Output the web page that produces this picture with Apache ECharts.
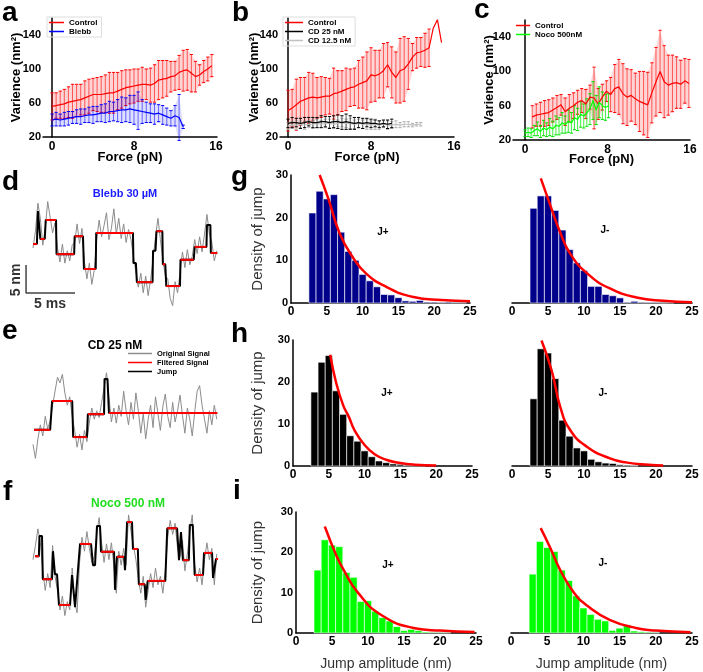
<!DOCTYPE html>
<html><head><meta charset="utf-8">
<script src="https://cdn.jsdelivr.net/npm/echarts@6/dist/echarts.min.js"></script>
<style>html,body{margin:0;padding:0;background:#fff}#c{width:703px;height:672px}</style>
</head><body><div id="c"></div>
<script>
// ---------- Panel a ----------
const aControlF = [0,0.4,0.8,1.2,1.6,2,2.4,2.8,3.2,3.6,4,4.4,4.8,5.2,5.6,6,6.4,6.8,7.2,7.6,8,8.4,8.8,9.2,9.6,10,10.4,10.8,11.2,11.6,12,12.4,12.8,13.2,13.6,14,14.4,14.8,15.2,15.6];
const aControlMean = [56,57,58,59,61,62,63,64,66,68,70,70,70,71,72,72,74,76,78,79,80,81,82,82,81,83,87,88,89,91,92,96,98,99,95,91,93,97,100,104];
const aControlErr = [16,15,16,17,18,20,19,18,20,20,19,20,21,22,24,24,22,22,21,20,20,19,20,18,20,22,23,22,21,18,17,20,24,24,22,18,12,13,14,13];
const aBlebbF = [0,0.4,0.8,1.2,1.6,2,2.4,2.8,3.2,3.6,4,4.4,4.8,5.2,5.6,6,6.4,6.8,7.2,7.6,8,8.4,8.8,9.2,9.6,10,10.4,10.8,11.2,11.6,12,12.4,12.8];
const aBlebbMean = [40,41,40,41,42,43,44,44,45,46,46,47,48,48,50,50,51,52,52,53,52,51,50,49,48,47,48,46,44,42,45,43,32];
const aBlebbErr = [7,8,7,8,8,7,8,9,8,9,10,9,10,11,12,11,13,15,14,16,17,22,14,12,11,12,10,11,10,9,12,27,2];
// ---------- Panel b ----------
const bControlF = [0,0.4,0.8,1.2,1.6,2,2.4,2.8,3.2,3.6,4,4.4,4.8,5.2,5.6,6,6.4,6.8,7.2,7.6,8,8.4,8.8,9.2,9.6,10,10.4,10.8,11.2,11.6,12,12.4,12.8,13.2,13.6,14,14.4,14.8];
const bControlMean = [51,54,58,62,64,66,67,66,67,68,68,71,72,74,76,78,79,82,84,86,93,92,94,98,105,96,90,98,100,106,114,119,120,122,125,148,158,131];
const bControlErr = [24,22,30,28,26,30,28,24,24,22,21,30,26,24,25,22,22,28,30,34,32,30,28,32,26,30,30,38,38,30,16,18,17,20,22,0,0,0];
const bCD25F = [0,0.4,0.8,1.2,1.6,2,2.4,2.8,3.2,3.6,4,4.4,4.8,5.2,5.6,6,6.4,6.8,7.2,7.6,8,8.4,8.8,9.2,9.6,10];
const bCD25Mean = [36,37,37,36,37,38,37,37,38,38,37,38,38,37,38,37,36,37,36,37,36,36,35,36,35,36];
const bCD25Err = [5,6,5,6,6,5,6,6,7,6,7,7,8,8,9,8,7,6,6,5,5,4,4,4,5,5];
const bCD12F = [0,0.4,0.8,1.2,1.6,2,2.4,2.8,3.2,3.6,4,4.4,4.8,5.2,5.6,6,6.4,6.8,7.2,7.6,8,8.4,8.8,9.2,9.6,10,10.4,10.8,11.2,11.6,12,12.4,12.8];
const bCD12Mean = [33,34,34,35,34,35,35,36,35,36,36,35,36,37,36,36,35,36,35,35,34,35,34,35,34,34,35,34,35,35,34,35,35];
const bCD12Err = [4,4,5,4,5,4,5,5,4,5,5,5,4,5,5,6,5,5,5,6,5,6,5,4,5,4,4,3,3,3,2,2,2];
// ---------- Panel c ----------
const cControlF = [0.7,1.1,1.5,1.9,2.3,2.7,3.1,3.5,3.9,4.3,4.7,5.1,5.5,5.9,6.3,6.7,7.1,7.5,7.9,8.3,8.7,9.1,9.5,9.9,10.3,10.7,11.1,11.5,11.9,12.3,12.7,13.1,13.5,13.9,14.3,14.7,15.1,15.5,15.9];
const cControlMean = [47,49,50,51,52,55,58,61,53,57,60,64,66,62,70,69,62,70,77,73,80,82,74,70,72,68,65,63,61,75,88,100,88,84,86,87,85,89,86];
const cControlErr = [13,13,14,15,15,14,14,12,16,16,15,14,14,17,14,36,18,15,12,20,28,32,35,33,30,30,35,37,38,35,40,48,42,35,33,30,28,26,28];
const cNocoF = [0,0.3,0.6,0.9,1.2,1.5,1.8,2.1,2.4,2.7,3,3.3,3.6,3.9,4.2,4.5,4.8,5.1,5.4,5.7,6,6.3,6.6,6.9,7.2,7.5,7.8,8.1];
const cNocoMean = [28,29,28,31,33,30,34,32,35,33,37,36,40,38,42,40,46,44,50,48,52,56,66,55,64,60,58,60];
const cNocoErr = [4,5,5,6,8,7,9,8,10,9,11,10,12,10,13,12,14,13,15,14,16,18,22,17,18,16,15,14];
const forceTicks = [0, 8, 16];
const varTicks = [20, 60, 100, 140];

// ---------- Traces d, e, f (time ms, displacement nm) ----------
const sampleMs = 0.25;
const dSignal = [7.5,10.5,15.5,12.8,8.0,11.0,15.8,13.0,10.2,12.0,7.5,5.0,8.2,4.8,7.0,5.2,8.0,8.5,11.8,8.3,11.0,5.0,2.0,4.8,1.0,3.5,9.0,12.5,9.5,11.5,13.8,9.0,11.0,14.5,10.0,12.8,9.2,11.8,8.5,10.8,9.0,6.0,3.2,0.5,3.0,-0.5,2.5,-1.0,1.8,5.5,9.5,12.8,9.0,5.5,2.5,2.0,-1.5,-2.8,1.5,-0.5,3.0,6.8,4.0,7.2,4.5,6.0,9.0,6.5,9.5,6.8,10.0,13.5,10.0,8.5,5.2,7.0];
const eSignal = [1.0,-1.5,2.0,4.5,2.5,6.0,3.8,5.2,8.0,10.5,13.0,12.0,13.5,10.2,8.0,9.5,6.0,3.5,0.5,2.8,0.0,3.5,1.5,5.0,7.5,5.5,7.0,5.8,8.5,11.0,13.8,9.5,5.0,7.5,4.8,8.0,6.0,10.5,7.0,4.5,8.5,5.5,10.2,7.0,3.0,6.5,2.0,5.5,8.0,4.0,9.5,6.5,3.5,7.8,10.0,6.0,4.0,8.5,5.0,7.0,9.8,6.2,3.0,7.5,5.5,2.5,6.8,10.5,11.5,8.0,5.5,3.0,7.0,4.5,8.0,5.5];
const fSignal = [9.0,11.5,14.5,12.0,7.0,3.5,6.5,4.0,11.5,6.0,3.5,0.0,2.5,-1.0,1.5,0.0,7.5,1.5,-0.5,8.5,13.0,10.5,14.0,11.0,8.5,9.5,13.5,16.5,12.0,8.5,11.8,9.0,12.0,8.0,3.0,10.5,8.0,11.0,8.0,17.0,14.0,11.5,9.0,5.5,3.0,6.0,0.5,3.5,6.5,4.0,7.5,4.5,6.0,3.0,7.0,13.0,16.0,13.5,15.5,11.0,9.5,12.5,7.0,10.0,14.0,17.0,8.0,5.0,7.5,4.5,9.0,12.0,9.0,11.0,4.5,10.0];
// steps: [tStart, tEnd, level, isFilteredPlateau]
const dSteps = [[0.0,0.4,8.2,1],[0.5,0.7,14.1,0],[0.75,1.2,9.1,1],[1.3,2.35,12.5,1],[2.4,4.2,6.4,1],[4.25,5.1,9.6,1],[5.2,6.4,3.75,1],[6.45,10.2,10.2,1],[10.25,10.5,4.8,0],[10.6,12.2,1.4,1],[12.25,12.5,7.0,0],[12.6,13.2,10.5,1],[13.25,13.5,4.6,1],[13.6,15.0,0.7,1],[15.05,16.4,5.4,1],[16.5,17.7,7.7,1],[17.75,18.1,11.6,0],[18.15,18.8,6.6,1]];
const eSteps = [[0.1,1.75,3.6,1],[1.95,4.0,8.75,1],[4.1,5.5,2.3,1],[5.6,7.25,6.4,1],[7.3,7.6,12.7,0],[7.75,18.8,6.6,1]];
const fSteps = [[0.2,0.6,9.6,1],[0.66,0.92,13.2,0],[1.0,1.94,5.5,1],[2.04,2.14,10.5,0],[2.24,2.45,6.4,0],[2.65,3.78,0.9,1],[3.98,4.18,6.25,0],[4.29,4.49,0.5,0],[4.8,5.92,11.8,1],[6.12,6.33,8.0,0],[6.53,6.84,15.0,0],[6.94,8.27,10.4,1],[8.37,8.47,3.6,0],[8.57,9.29,9.5,1],[9.39,9.49,7.1,0],[9.6,10.1,15.7,1],[10.2,10.7,10.9,1],[10.8,11.4,4.6,1],[11.5,11.6,1.8,0],[11.7,13.5,5.2,1],[13.7,14.7,14.6,1],[14.9,15.0,8.9,0],[15.1,15.2,13.9,0],[15.3,15.9,8.9,1],[16.0,16.3,15.2,0],[16.5,17.35,6.25,1],[17.45,18.27,10.2,1],[18.37,18.57,5.7,0],[18.67,18.88,9.1,1]];
const scaleBarNm = 5, scaleBarMs = 5;

// ---------- Histograms (bin centre nm, density) ----------
const gJplus = [[3,21.1],[4,26.2],[5,24.4],[6,25.4],[7,16.6],[8,12.1],[9,10],[10,6.7],[11,5.2],[12,3.8],[13,2.0],[14,1.9],[15,1.25],[16,0.5],[17,0.4],[18,0.6],[19,0.2],[20,0.2],[21,0.1],[22,0.2],[23,0.1],[24,0.1]];
const gJminus = [[3,22.2],[4,25.1],[5,25.1],[6,21.7],[7,17.1],[8,12.5],[9,9.4],[10,7.6],[11,3.9],[12,3.9],[13,2.0],[14,1.7],[15,1.2],[16,0.15],[17,0.4],[18,0.15],[19,0.1],[20,0.1],[21,0.05],[22,0.1]];
const hJplus = [[3,17.6],[4,24.7],[5,26.3],[6,17.9],[7,12.3],[8,7.2],[9,5.9],[10,3.6],[11,2.2],[12,1.2],[13,0.8],[14,0.5],[15,0.4],[16,0.2],[17,0.1],[18,0.1]];
const hJminus = [[3,16],[4,27.9],[5,26.9],[6,20.8],[7,10.9],[8,7.1],[9,4.3],[10,3.6],[11,1.6],[12,1.0],[13,0.7],[14,0.6],[15,0.3],[16,0.2],[17,0.1]];
const iJplus = [[3,15.6],[4,23.1],[5,21.8],[6,21.4],[7,15.0],[8,13.8],[9,7.8],[10,8.0],[11,5.4],[12,3.8],[13,3.0],[14,1.6],[15,0.6],[16,0.9],[17,0.6],[18,0.25],[19,0.15],[20,0.1],[21,0.1]];
const iJminus = [[3,14.6],[4,22.7],[5,21.2],[6,20.2],[7,15.6],[8,13.0],[9,9.2],[10,6.2],[11,4.6],[12,3.4],[13,3.0],[14,0.64],[15,1.2],[16,2.0],[17,0.5],[18,0.3],[19,0.2],[20,0.1]];
// fitted curves
const gJplusFit = [[4,30],[5.2,24.5],[6.8,16.3],[8.6,10.8],[10.5,6.9],[13.3,3.8],[17.1,1.4],[21,0.7],[25,0.4]];
const gJminusFit = [[4,29.2],[5.3,23],[6.7,16.5],[8.1,11.5],[10.4,7],[13.6,3.4],[17.3,1.3],[21,0.5],[25,0.2]];
const hJplusFit = [[5.2,26.5],[6,20],[7,14.5],[7.8,11.7],[8.6,8.5],[10,5],[11.4,2.8],[13,1.5],[15,0.7],[17,0.3],[20,0.1]];
const hJminusFit = [[4.1,29.9],[5.5,22.8],[6.7,14.1],[8.1,8.5],[10.4,4.6],[13.6,1.8],[16,0.8],[19,0.3],[21,0.1]];
const iJplusFit = [[4,26.4],[5.6,19.2],[6.5,16],[8.6,10],[11.9,4.4],[16.5,1.2],[20,0.6],[24.8,0.24]];
const iJminusFit = [[4.1,26],[5.4,21.2],[6.8,15.6],[8.7,10],[10.5,6.8],[13.7,3.2],[17.4,1.2],[20,0.6],[24.8,0.16]];

// ================= build =================
const FONT = '"Liberation Sans", Arial, Helvetica, sans-serif';
const RED = '#ff0000';
const zip3 = (x, m, e) => x.map((v, i) => [v, m[i], e[i]]);
const zip2 = (x, m) => x.map((v, i) => [v, m[i]]);
function ln(x1, y1, x2, y2, color, w) { return {type: 'line', shape: {x1, y1, x2, y2}, style: {stroke: color, lineWidth: w || 1}}; }
function errRender(lineColor, capColor) {
  return function (p, api) {
    const x = api.value(0), m = api.value(1), e = api.value(2);
    if (!e) return null;
    const t = api.coord([x, m + e]), b = api.coord([x, m - e]), c = 1.6;
    return {type: 'group', children: [ln(t[0], t[1], b[0], b[1], lineColor), ln(t[0] - c, t[1], t[0] + c, t[1], capColor), ln(b[0] - c, b[1], b[0] + c, b[1], capColor)]};
  };
}
function bandRender(x, m, e, fill) {
  return function (p, api) {
    if (p.dataIndex !== 0) return null;
    const n = x.filter((v, i) => e[i] > 0).length;
    const up = [], lo = [];
    for (let i = 0; i < n; i++) { up.push(api.coord([x[i], m[i] + e[i]])); lo.push(api.coord([x[i], m[i] - e[i]])); }
    return {type: 'polygon', shape: {points: up.concat(lo.reverse())}, style: {fill}};
  };
}
function barRender(color) {
  return function (p, api) {
    const x = api.value(0), y = api.value(1);
    const a = api.coord([x - 0.5, y]), b = api.coord([x + 0.5, 0]);
    return {type: 'rect', shape: {x: a[0], y: a[1], width: b[0] - a[0], height: b[1] - a[1]}, style: {fill: color, stroke: 'rgba(255,255,255,0.6)', lineWidth: 1}};
  };
}
function plateauRender(p, api) {
  const a = api.coord([api.value(0), api.value(2)]), b = api.coord([api.value(1), api.value(2)]);
  return ln(a[0], a[1], b[0], b[1], RED, 2);
}

const grids = [
  {left: 43, top: 18, width: 174, height: 119},
  {left: 280, top: 18, width: 174, height: 119},
  {left: 513, top: 20, width: 177, height: 120},
  {left: 20, top: 190, width: 200, height: 120},
  {left: 20, top: 365, width: 200, height: 100},
  {left: 20, top: 515, width: 200, height: 110},
  {left: 291, top: 175, width: 179, height: 128},
  {left: 512, top: 175, width: 180, height: 128},
  {left: 293, top: 340, width: 179, height: 126},
  {left: 512, top: 340, width: 180, height: 126},
  {left: 296, top: 512, width: 180, height: 125},
  {left: 511, top: 512, width: 181, height: 125}
];
const axLine = {show: true, lineStyle: {color: '#000', width: 1.5}};
const xAxes = [], yAxes = [];
const varNameGap = [20.5, 19, 17];
const forceNameGap = [14, 14, 12.5];
[[-0.88, 16.1], [-0.77, 16], [-1.16, 16]].forEach((r, i) => {
  xAxes.push({type: 'value', gridIndex: i, min: r[0], max: r[1], axisLine: axLine, axisTick: {show: false}, splitLine: {show: false},
    axisLabel: {customValues: forceTicks, fontFamily: FONT, fontWeight: 'bold', fontSize: 12, color: '#000', margin: 4},
    name: 'Force (pN)', nameLocation: 'middle', nameGap: forceNameGap[i], nameMoveOverlap: false, nameTextStyle: {fontFamily: FONT, fontWeight: 'bold', fontSize: 13, color: '#000'}});
  yAxes.push({type: 'value', gridIndex: i, min: 20, max: 160, axisLine: axLine, axisTick: {show: false}, splitLine: {show: false},
    axisLabel: {customValues: varTicks, fontFamily: FONT, fontWeight: 'bold', fontSize: 11, color: '#000', margin: 2},
    name: 'Varience (nm²)', nameLocation: 'middle', nameGap: varNameGap[i], nameMoveOverlap: false, nameTextStyle: {fontFamily: FONT, fontWeight: 'bold', fontSize: 13, color: '#000'}});
});
[[-3.571, 17.857], [-2.679, 15.179], [-2.679, 16.964]].forEach((r, k) => {
  xAxes.push({type: 'value', gridIndex: 3 + k, min: -1.3265, max: 19.0816, show: false});
  yAxes.push({type: 'value', gridIndex: 3 + k, min: r[0], max: r[1], show: false});
});
const densGap = [26, 28, 31];
for (let k = 0; k < 6; k++) {
  const gi = 6 + k, left = k % 2 === 0, row = Math.floor(k / 2), bottom = row === 2;
  xAxes.push({type: 'value', gridIndex: gi, min: 0, max: 25, interval: 5, axisLine: axLine, axisTick: {show: false}, splitLine: {show: false},
    axisLabel: {fontFamily: FONT, fontWeight: 'bold', fontSize: 12, color: '#000', margin: 3},
    name: bottom ? 'Jump amplitude (nm)' : '', nameLocation: 'middle', nameGap: 24, nameTextStyle: {fontFamily: FONT, fontSize: 14, color: '#333'}});
  yAxes.push({type: 'value', gridIndex: gi, min: 0, max: 30, interval: 10, show: left, axisLine: axLine, axisTick: {show: false}, splitLine: {show: false},
    axisLabel: {fontFamily: FONT, fontWeight: 'bold', fontSize: 11, color: '#000', margin: 3},
    name: 'Density of jump', nameLocation: 'middle', nameGap: densGap[row], nameTextStyle: {fontFamily: FONT, fontSize: 15, color: '#333'}});
}

const series = [];
function errSeries(idx, name, x, m, e, lineColor, capColor, color, band) {
  if (band) {
    series.push({type: 'custom', name: name + ' band', xAxisIndex: idx, yAxisIndex: idx, renderItem: bandRender(x, m, e, band), data: zip3(x, m, e), encode: {x: 0, y: 1}, z: 1, silent: true});
  }
  series.push({type: 'custom', name: name + ' err', xAxisIndex: idx, yAxisIndex: idx, renderItem: errRender(lineColor, capColor), data: zip3(x, m, e), encode: {x: 0, y: 1}, z: 2});
  series.push({type: 'line', name, color, xAxisIndex: idx, yAxisIndex: idx, data: zip2(x, m), showSymbol: false, lineStyle: {color, width: 1.2}, z: 3});
}
const PINK = 'rgba(255,0,0,0.17)';
errSeries(0, 'Control', aControlF, aControlMean, aControlErr, 'rgba(255,0,0,0.6)', RED, RED, PINK);
errSeries(0, 'Blebb', aBlebbF, aBlebbMean, aBlebbErr, 'rgba(0,0,255,0.55)', '#0000ff', '#0000ff', 'rgba(0,0,255,0.13)');
errSeries(1, 'Control', bControlF, bControlMean, bControlErr, 'rgba(255,0,0,0.6)', RED, RED, PINK);
errSeries(1, 'CD 12.5 nM', bCD12F, bCD12Mean, bCD12Err, '#c8c8c8', '#b0b0b0', '#c0c0c0');
errSeries(1, 'CD 25 nM', bCD25F, bCD25Mean, bCD25Err, 'rgba(0,0,0,0.6)', '#000', '#000');
errSeries(2, 'Control', cControlF, cControlMean, cControlErr, 'rgba(255,0,0,0.6)', RED, RED, PINK);
errSeries(2, 'Noco 500nM', cNocoF, cNocoMean, cNocoErr, 'rgba(0,230,0,0.75)', '#00e000', '#00ff00');

[[dSignal, dSteps], [eSignal, eSteps], [fSignal, fSteps]].forEach((tr, k) => {
  const idx = 3 + k, sig = tr[0], steps = tr[1];
  series.push({type: 'line', name: 'Original Signal', color: '#8c8c8c', xAxisIndex: idx, yAxisIndex: idx, showSymbol: false,
    data: sig.map((v, i) => [i * sampleMs, v]), lineStyle: {color: '#8c8c8c', width: 1}, z: 2});
  const path = [];
  steps.forEach(s => { path.push([s[0], s[2]]); path.push([s[1], s[2]]); });
  series.push({type: 'line', name: 'Jump', color: '#000', xAxisIndex: idx, yAxisIndex: idx, showSymbol: false, data: path, lineStyle: {color: '#000', width: 2}, z: 3});
  series.push({type: 'custom', name: 'Filtered Signal', itemStyle: {color: RED}, xAxisIndex: idx, yAxisIndex: idx, renderItem: plateauRender,
    data: steps.filter(s => s[3]), encode: {x: [0, 1], y: 2}, z: 4});
});
const sbX = -0.71, sbY = -0.54;
series.push({type: 'line', name: 'scale', xAxisIndex: 3, yAxisIndex: 3, showSymbol: false, data: [[sbX, sbY + scaleBarNm], [sbX, sbY], [sbX + scaleBarMs, sbY]], lineStyle: {color: '#444', width: 1.5}});

const hists = [[gJplus, gJplusFit, '#00008b'], [gJminus, gJminusFit, '#00008b'], [hJplus, hJplusFit, '#000000'], [hJminus, hJminusFit, '#000000'], [iJplus, iJplusFit, '#00ff00'], [iJminus, iJminusFit, '#00ff00']];
hists.forEach((h, k) => {
  const idx = 6 + k;
  series.push({type: 'custom', name: 'hist' + k, xAxisIndex: idx, yAxisIndex: idx, renderItem: barRender(h[2]), data: h[0], encode: {x: 0, y: 1}, z: 2});
  series.push({type: 'line', name: 'fit' + k, xAxisIndex: idx, yAxisIndex: idx, data: h[1], smooth: 0.5, showSymbol: false, lineStyle: {color: RED, width: 2.5}, z: 3});
});

const legText = {fontFamily: FONT, fontWeight: 'bold', fontSize: 8, color: '#000', lineHeight: 9};
const legends = [
  {data: ['Control', 'Blebb'], left: 47, top: 17, itemWidth: 15, padding: [1, 4, 1, 2], borderColor: '#ddd', borderWidth: 1},
  {data: ['Control', 'CD 25 nM', 'CD 12.5 nM'], left: 283, top: 17, itemWidth: 18, padding: [1, 4, 1, 2], borderColor: '#ddd', borderWidth: 1},
  {data: ['Control', 'Noco 500nM'], left: 516, top: 21, itemWidth: 14, padding: 0},
  {data: ['Original Signal', 'Filtered Signal', 'Jump'], left: 128, top: 349, itemWidth: 24, padding: 0, textStyle: Object.assign({}, legText, {fontSize: 7.5})}
].map(l => Object.assign({orient: 'vertical', icon: 'rect', itemHeight: 1.5, itemGap: 0, textStyle: legText, selectedMode: false}, l));

const T = (text, x, y, opt) => ({type: 'text', x, y, style: Object.assign({text, fill: '#000', font: 'bold 12px ' + FONT, align: 'center', verticalAlign: 'middle'}, opt || {})});
const letter = (t, x, y) => T(t, x, y, {font: 'bold 28px ' + FONT, align: 'left'});
const graphics = [
  letter('a', 2, 13), letter('b', 232, 13), letter('c', 474, 10),
  letter('d', 2, 182), letter('g', 231, 177),
  letter('e', 2, 331), letter('h', 231, 334),
  letter('f', 3, 492), letter('i', 233, 491),
  T('Blebb 30 µM', 125, 194, {fill: '#1a1aff', font: 'bold 11px ' + FONT}),
  T('CD 25 nM', 115, 346, {font: 'bold 12px ' + FONT}),
  T('Noco 500 nM', 128, 504, {fill: '#22dd22', font: 'bold 12px ' + FONT}),
  T('5 ms', 50, 304, {fill: '#333', font: 'bold 14px ' + FONT}),
  Object.assign(T('5 nm', 16, 280, {fill: '#333', font: 'bold 14px ' + FONT}), {rotation: Math.PI / 2}),
  T('J+', 383, 232, {font: 'bold 10px ' + FONT}), T('J-', 605, 230, {font: 'bold 10px ' + FONT}),
  T('J+', 387, 393, {font: 'bold 10px ' + FONT}), T('J-', 603, 393, {font: 'bold 10px ' + FONT}),
  T('J+', 388, 565, {font: 'bold 10px ' + FONT}), T('J-', 603, 563, {font: 'bold 10px ' + FONT})
];

const chart = echarts.init(document.getElementById('c'), null, {renderer: 'canvas'});
chart.setOption({
  animation: false, backgroundColor: '#fff',
  textStyle: {fontFamily: FONT},
  grid: grids, xAxis: xAxes, yAxis: yAxes, legend: legends, series, graphic: graphics
});
</script></body></html>
